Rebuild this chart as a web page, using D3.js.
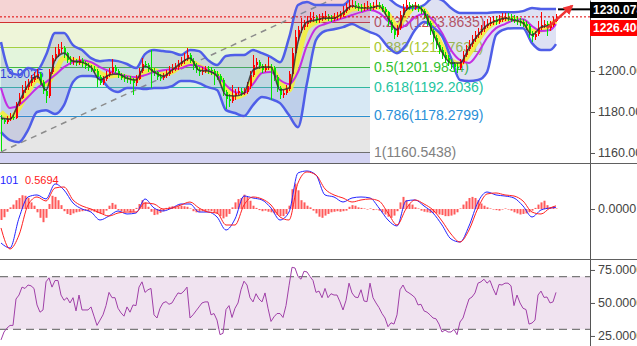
<!DOCTYPE html>
<html>
<head>
<meta charset="utf-8">
<script src="https://cdn.jsdelivr.net/npm/d3@7"></script>
<style>
body { margin: 0; background: #fff; overflow: hidden; }
svg { display: block; font-family: "Liberation Sans", Arial, sans-serif; }
</style>
</head>
<body>
<svg width="637" height="346"></svg>
<script>
// candles, one per bar
var open = [
1177.0,1176.2,1175.1,1176.8,1177.5,1177.0,1183.8,1187.0,1190.6,1192.4,
1193.9,1195.8,1197.1,1198.3,1194.6,1190.0,1187.8,1199.5,1206.2,1208.4,
1210.6,1211.0,1208.6,1205.3,1204.2,1205.0,1203.9,1205.6,1203.8,1202.6,
1201.5,1200.9,1200.2,1197.2,1194.3,1196.0,1198.1,1199.6,1201.8,1200.2,
1197.9,1196.8,1196.4,1195.9,1195.4,1194.2,1196.3,1199.8,1203.6,1203.1,
1201.0,1200.1,1199.3,1197.0,1196.8,1197.6,1198.5,1200.3,1201.2,1201.9,
1203.5,1204.8,1206.0,1207.8,1205.1,1202.4,1200.6,1199.5,1200.1,1200.8,
1200.3,1200.0,1198.6,1197.4,1195.6,1189.7,1186.5,1185.6,1187.7,1189.4,
1190.3,1189.5,1189.9,1192.6,1198.0,1202.9,1204.3,1202.5,1200.6,1201.4,
1202.0,1201.6,1197.0,1191.5,1188.2,1189.3,1191.2,1198.5,1209.0,1216.8,
1219.8,1221.4,1222.9,1224.4,1225.8,1226.3,1224.8,1225.9,1226.6,1227.0,
1225.7,1225.6,1226.2,1226.8,1227.3,1229.5,1231.0,1232.0,1232.4,1231.8,
1231.0,1230.6,1231.3,1231.9,1230.8,1231.7,1232.3,1231.6,1230.4,1228.7,
1223.9,1220.1,1217.6,1221.0,1227.3,1230.6,1232.0,1231.2,1230.8,1231.6,
1230.4,1229.2,1227.0,1223.5,1219.5,1216.0,1212.6,1210.4,1208.0,1206.3,
1204.6,1203.2,1202.1,1201.6,1204.3,1207.8,1210.8,1213.0,1215.4,1217.5,
1218.9,1220.4,1222.0,1223.1,1223.9,1224.8,1224.0,1224.9,1225.8,1226.3,
1226.0,1225.6,1224.9,1224.2,1223.8,1223.0,1221.9,1218.4,1216.6,1217.9,
1221.0,1222.6,1223.0,1220.9,1222.5,1224.4];
var high = [
1178.5,1177.3,1178.0,1179.4,1178.6,1185.0,1189.2,1193.0,1195.3,1196.0,
1198.2,1199.6,1200.9,1199.4,1195.5,1191.4,1200.8,1208.0,1211.6,1213.1,
1214.2,1212.3,1209.4,1207.5,1206.8,1206.0,1207.4,1206.5,1204.9,1203.7,
1203.0,1202.2,1201.0,1198.0,1197.5,1199.8,1201.7,1205.9,1203.0,1201.0,
1199.2,1198.3,1197.7,1197.4,1196.6,1197.9,1201.6,1206.2,1205.1,1203.9,
1210.0,1201.5,1200.1,1198.6,1199.0,1200.3,1202.2,1203.5,1204.0,1205.3,
1206.9,1208.6,1211.3,1209.0,1206.2,1203.9,1201.9,1201.8,1202.5,1202.2,
1201.9,1201.0,1200.0,1198.6,1196.4,1190.8,1188.9,1193.0,1191.3,1192.0,
1191.6,1191.5,1194.4,1200.0,1207.9,1206.4,1205.4,1203.4,1203.5,1206.8,
1203.3,1202.4,1198.1,1192.6,1190.9,1193.0,1200.2,1211.0,1219.9,1222.0,
1225.7,1224.9,1227.0,1228.6,1229.0,1227.4,1227.8,1228.5,1229.1,1228.0,
1227.5,1228.3,1228.9,1229.4,1231.6,1233.4,1234.6,1234.5,1233.9,1233.2,
1232.6,1233.4,1234.0,1233.0,1233.6,1234.5,1233.8,1232.6,1231.4,1229.5,
1224.8,1221.2,1222.6,1229.2,1232.8,1234.4,1233.8,1232.9,1233.6,1232.8,
1231.6,1230.1,1228.0,1224.5,1220.6,1217.4,1213.9,1211.8,1209.3,1207.8,
1206.0,1204.6,1203.8,1206.0,1209.6,1212.9,1215.3,1217.6,1219.7,1221.0,
1222.6,1224.3,1225.5,1226.2,1227.0,1226.6,1227.1,1228.1,1228.4,1228.2,
1227.7,1227.2,1226.6,1225.9,1225.4,1224.6,1222.8,1219.6,1219.5,1224.6,
1229.0,1225.1,1224.2,1224.4,1226.3,1227.6];
var low = [
1160.8,1173.9,1174.2,1175.8,1175.9,1176.5,1182.9,1186.1,1189.4,1190.8,
1192.6,1194.4,1196.0,1193.2,1188.6,1184.6,1186.9,1198.4,1204.8,1206.9,
1208.8,1206.5,1203.8,1202.9,1203.1,1202.2,1202.8,1202.1,1201.0,1199.9,
1199.3,1198.8,1192.0,1193.0,1193.1,1195.2,1197.0,1198.7,1199.1,1196.6,
1195.4,1194.8,1194.3,1193.6,1188.4,1192.8,1195.5,1198.9,1201.7,1199.6,
1191.9,1197.6,1195.6,1195.2,1195.6,1196.4,1197.7,1199.1,1200.0,1200.7,
1202.4,1203.6,1204.9,1203.8,1200.6,1198.8,1197.8,1198.2,1199.0,1198.6,
1198.0,1193.4,1195.8,1193.8,1188.0,1181.4,1182.5,1184.4,1186.0,1188.2,
1187.9,1188.1,1188.8,1191.4,1197.2,1201.5,1201.1,1199.0,1199.7,1200.3,
1185.9,1195.3,1189.8,1186.3,1187.0,1188.1,1190.4,1197.6,1208.1,1214.5,
1218.3,1220.0,1221.5,1223.4,1224.1,1223.3,1223.6,1224.3,1225.0,1224.2,
1223.9,1224.4,1225.0,1225.5,1226.1,1228.1,1229.9,1230.6,1230.2,1229.5,
1228.8,1229.2,1229.9,1229.4,1229.6,1230.3,1230.0,1228.7,1227.2,1222.1,
1218.3,1215.5,1216.4,1220.2,1226.4,1229.5,1229.8,1229.1,1229.6,1228.9,
1227.6,1225.4,1221.8,1217.6,1214.1,1210.5,1208.3,1205.9,1204.0,1202.4,
1200.9,1199.6,1199.0,1200.4,1203.4,1206.7,1209.8,1211.9,1214.2,1216.3,
1217.7,1219.1,1220.8,1221.9,1222.6,1222.4,1222.8,1223.7,1224.5,1224.6,
1224.0,1223.3,1222.6,1222.0,1221.4,1220.0,1216.2,1214.2,1215.0,1216.9,
1219.8,1221.0,1217.1,1219.6,1221.3,1223.8];
var close = [
1176.2,1175.1,1176.8,1177.5,1177.0,1183.8,1187.0,1190.6,1192.4,1193.9,
1195.8,1197.1,1198.3,1194.6,1190.0,1187.8,1199.5,1206.2,1208.4,1210.6,
1211.0,1208.6,1205.3,1204.2,1205.0,1203.9,1205.6,1203.8,1202.6,1201.5,
1200.9,1200.2,1197.2,1194.3,1196.0,1198.1,1199.6,1201.8,1200.2,1197.9,
1196.8,1196.4,1195.9,1195.4,1194.2,1196.3,1199.8,1203.6,1203.1,1201.0,
1200.1,1199.3,1197.0,1196.8,1197.6,1198.5,1200.3,1201.2,1201.9,1203.5,
1204.8,1206.0,1207.8,1205.1,1202.4,1200.6,1199.5,1200.1,1200.8,1200.3,
1200.0,1198.6,1197.4,1195.6,1189.7,1186.5,1185.6,1187.7,1189.4,1190.3,
1189.5,1189.9,1192.6,1198.0,1202.9,1204.3,1202.5,1200.6,1201.4,1202.0,
1201.6,1197.0,1191.5,1188.2,1189.3,1191.2,1198.5,1209.0,1216.8,1219.8,
1221.4,1222.9,1224.4,1225.8,1226.3,1224.8,1225.9,1226.6,1227.0,1225.7,
1225.6,1226.2,1226.8,1227.3,1229.5,1231.0,1232.0,1232.4,1231.8,1231.0,
1230.6,1231.3,1231.9,1230.8,1231.7,1232.3,1231.6,1230.4,1228.7,1223.9,
1220.1,1217.6,1221.0,1227.3,1230.6,1232.0,1231.2,1230.8,1231.6,1230.4,
1229.2,1227.0,1223.5,1219.5,1216.0,1212.6,1210.4,1208.0,1206.3,1204.6,
1203.2,1202.1,1201.6,1204.3,1207.8,1210.8,1213.0,1215.4,1217.5,1218.9,
1220.4,1222.0,1223.1,1223.9,1224.8,1224.0,1224.9,1225.8,1226.3,1226.0,
1225.6,1224.9,1224.2,1223.8,1223.0,1221.9,1218.4,1216.6,1217.9,1221.0,
1222.6,1223.0,1220.9,1222.5,1224.4,1226.4];

// overlays, sampled every 3rd bar
var bbUpper = [1214.1,1199.5,1198.0,1201.4,1200.4,1207.8,1218.5,1218.5,1212.6,1210.2,
1206.3,1204.8,1205.3,1204.8,1203.4,1201.4,1208.2,1210.2,1209.7,1209.2,
1207.8,1210.2,1209.7,1205.3,1202.9,1207.3,1207.8,1207.8,1210.2,1208.7,
1206.8,1204.3,1216.1,1232.2,1233.6,1232.2,1232.2,1232.2,1232.2,1236.1,
1238.5,1238.5,1237.5,1235.6,1232.2,1230.7,1230.7,1232.2,1235.6,1234.6,
1230.7,1228.3,1228.3,1228.3,1228.3,1228.7,1228.7,1228.7,1229.2,1230.7,
1230.2,1230.2,1230.2];
var bbLower = [1170.2,1166.3,1165.3,1171.2,1180.0,1180.9,1179.0,1183.4,1194.6,1197.5,
1197.5,1196.5,1191.7,1189.7,1191.7,1191.7,1191.2,1191.7,1191.7,1192.6,
1195.1,1195.1,1194.1,1192.1,1190.7,1180.9,1179.5,1178.0,1183.4,1187.3,
1186.3,1184.3,1178.5,1172.6,1194.1,1215.1,1219.5,1220.4,1221.4,1222.9,
1220.9,1219.0,1217.0,1211.7,1208.7,1212.6,1220.0,1223.9,1221.4,1217.0,
1206.3,1195.6,1195.1,1195.6,1199.5,1217.5,1220.4,1220.9,1220.9,1213.6,
1210.2,1210.2,1213.1];
var maSlow = [1191.7,1181.9,1183.4,1187.3,1191.7,1194.6,1198.0,1201.9,1204.3,1205.3,
1204.3,1201.9,1200.0,1198.5,1197.5,1197.0,1198.0,1199.5,1200.4,1200.9,
1201.4,1202.9,1202.4,1200.4,1198.0,1193.1,1189.7,1189.2,1193.6,1199.0,
1199.5,1195.6,1193.6,1199.5,1212.6,1220.9,1222.9,1224.4,1225.8,1227.3,
1228.7,1229.7,1228.3,1224.4,1220.4,1222.4,1226.3,1227.8,1224.8,1218.5,
1210.2,1205.3,1203.9,1208.7,1216.1,1220.9,1222.9,1224.8,1225.3,1221.9,
1219.5,1220.0,1222.9];
var maMid = [1180.0,1177.0,1181.9,1189.7,1195.6,1193.6,1199.5,1206.3,1205.3,1204.3,
1202.9,1199.0,1197.5,1198.0,1197.0,1196.0,1199.5,1200.4,1198.5,1199.5,
1202.4,1204.8,1202.4,1200.0,1198.5,1191.7,1187.3,1188.7,1195.6,1201.4,
1201.4,1194.6,1190.7,1206.3,1220.9,1223.9,1225.3,1225.8,1227.3,1230.2,
1230.7,1230.7,1231.2,1227.8,1221.9,1226.8,1231.2,1229.7,1221.4,1212.2,
1205.3,1203.4,1208.2,1215.1,1220.9,1223.9,1225.3,1225.3,1223.9,1219.5,
1220.0,1222.4,1224.4];
var maFast = [1177.0,1176.5,1184.8,1193.1,1197.5,1190.7,1205.3,1208.7,1204.8,1204.3,
1201.9,1195.6,1198.0,1198.5,1196.5,1195.6,1202.4,1199.5,1197.5,1200.4,
1203.9,1206.3,1200.4,1200.0,1197.5,1188.2,1187.8,1189.2,1200.4,1201.9,
1201.9,1190.7,1191.7,1214.1,1223.9,1224.8,1225.8,1225.8,1228.3,1231.7,
1230.7,1230.7,1231.7,1225.8,1220.0,1229.7,1231.7,1228.7,1218.5,1209.2,
1203.9,1203.9,1211.2,1217.5,1222.4,1224.4,1225.8,1224.8,1223.4,1217.5,
1221.4,1222.4,1225.3];

// fibonacci retracement
var fibRatios = ["0", "0.236", "0.382", "0.5", "0.618", "0.786", "1"];
var fibLevels = [1243.4229, 1223.8635, 1211.7631, 1201.9834, 1192.2036, 1178.2799, 1160.5438];

// MACD, sampled every 3rd bar
var macdMain = [-6.18,-7.09,-1.64,2.18,2.55,1.82,4.55,3.45,1.09,0,
-0.55,-2.0,-1.27,-0.36,-0.91,-0.73,1.82,0.18,-0.36,0.18,
0.91,0.91,-0.55,-0.55,-1.45,-3.82,-1.82,2.36,2.0,1.64,
0.18,-2.0,-0.55,6.55,6.91,6.18,2.55,2.18,1.27,2.0,
2.18,2.0,0.18,-2.0,-3.09,1.45,1.64,0.55,-0.73,-2.91,
-5.45,-6.0,-3.09,1.27,3.09,2.55,2.36,2.0,0.55,-1.45,
-0.18,0.18,0.31];
var macdSignal = [-3.45,-7.27,-4.73,0.73,2.18,1.45,3.82,4.0,1.64,0.55,
0,-0.73,-1.27,-0.73,-0.55,-0.55,1.09,0.91,0,0.18,
0.73,1.27,0.18,-0.55,-0.73,-2.91,-2.91,0.73,2.18,1.82,
0.73,-1.45,-2.0,4.73,6.73,6.18,3.64,2.55,2.0,1.27,
1.64,1.82,1.45,-0.73,-2.91,0,1.64,0.91,-0.18,-2.18,
-4.55,-6.0,-3.82,0.18,2.73,2.91,2.55,2.36,1.45,-0.55,
-0.91,0.18,0.57];
// MACD histogram, one per bar
var macdHist = [-2.0,-1.5,-0.5,0.3,0.8,1.6,2.0,2.5,2.4,2.0,
1.2,0.6,-0.6,-1.6,-2.4,-1.6,0.9,2.4,2.2,1.6,
0.7,-0.4,-0.9,-1.1,-0.8,-0.6,-0.5,-0.4,-0.3,-0.4,
-0.3,-0.5,-0.7,-0.8,-0.9,-0.3,0.6,1.1,0.8,-0.2,
-0.4,-0.5,-0.4,-0.6,-0.5,0.2,0.9,1.6,1.2,0.4,
-0.5,-1.1,-1.0,-0.7,-0.4,0.2,0.4,0.5,0.4,0.5,
0.6,0.5,0.4,0.1,-0.4,-0.6,-0.5,-0.4,-0.5,-0.3,
-0.4,-0.6,-0.9,-1.3,-1.7,-1.4,-0.9,0.3,1.2,1.8,
2.0,2.6,2.2,1.5,0.6,0.2,-0.2,-0.4,-0.3,-0.5,
-0.6,-0.8,-1.1,-1.3,-1.3,-0.9,0.6,3.6,4.6,3.4,
1.6,1.2,0.6,0.3,-0.3,-0.8,-1.4,-1.6,-1.2,-0.9,
-0.6,-0.5,-0.4,-0.5,-0.4,-0.3,0.4,0.7,0.6,0.3,
0.2,0.1,-0.1,0.1,-0.2,-0.1,-0.3,-0.6,-1.0,-1.4,
-1.6,-1.2,-0.4,1.2,2.2,1.6,0.9,0.8,0.3,0.1,
-0.3,-0.5,-0.6,-0.7,-0.7,-0.8,-1.0,-1.1,-1.3,-1.3,
-1.2,-1.0,-0.6,0.1,0.8,1.4,2.0,2.2,2.0,1.6,
1.0,0.6,0.3,0.1,-0.1,-0.2,-0.3,-0.1,0.1,-0.1,
-0.3,-0.6,-0.8,-1.0,-0.9,-0.8,-0.6,-0.3,0.2,0.8,
1.2,1.5,0.7,0.3,0.2,0.1];

// RSI, one per bar
var rsi = [22,28,31,33,33,53,56,62,61,63.6,
63,61,48.5,43,44.7,66,69,62,67,67,
56,52,54,50,54,44,56,44.7,44.7,44.7,
47,40,33,37,41,48,58,54,54,46,
42.5,40,47,43,48.5,48,62,66,58,60,
61,41,38.6,46,50,51,49,50,54,57.6,
57,59,62,38.6,41,44,47,50,50.8,50.8,
41,42,37,26,27,45,48,39,46,50,
60,66.5,63.6,54,50.8,57,53,50.8,57.6,46,
36,39.5,42,42,39,48,63,77,76.5,70,
68,74,73.5,70,67,58,59,54,61,54,
57,56,56,50.8,44.7,52,65,57.6,54.5,54,
60,51.5,51,65,54,50,46.5,42,38.6,32,
35,34,41,60,63.6,59,57.6,56,54,48.5,
49,44,43,41,38.6,38,34,28,29.5,28,
28,30,26,35.6,38.6,46,53,54.5,57.6,65,
66,68,65,67,61,56,64,63.6,65,65,
63,48,56,50,46,45,34,34.8,37,56,
59,54.2,54.5,50,50.8,58];

var priceTicks = [1160, 1180, 1200];
var macdTicks = [0];
var rsiTicks = [25, 50, 75];
var rsiLevels = [70, 30];
var lastPrice = 1226.40, markPrice = 1230.078;

var svg = d3.select("svg");
var N = close.length;
var axisX = 590;

var x = d3.scaleLinear().domain([0, N - 1]).range([1, 556]);
var y = d3.scaleLinear().domain([1155.12, 1234.63]).range([163, 0]);
var yM = d3.scaleLinear().domain([-9.09, 8.36]).range([259, 163]);
var yR = d3.scaleLinear().domain([17.4, 83.3]).range([346, 259]);
var sx = function(k) { return x(Math.min(k * 3, N - 1)); };

var defs = svg.append("defs");
defs.append("clipPath").attr("id", "cMain").append("rect").attr("width", axisX).attr("height", 163);
defs.append("clipPath").attr("id", "cMacd").append("rect").attr("y", 163).attr("width", axisX).attr("height", 96);
defs.append("clipPath").attr("id", "cRsi").append("rect").attr("y", 259).attr("width", axisX).attr("height", 87);
defs.append("marker").attr("id", "arr").attr("viewBox", "0 0 10 10").attr("refX", 8).attr("refY", 5)
    .attr("markerWidth", 4).attr("markerHeight", 4).attr("orient", "auto")
  .append("path").attr("d", "M0,0L10,5L0,10z").attr("fill", "#f03434");

var main = svg.append("g").attr("clip-path", "url(#cMain)");

// fib zones
var fibEnd = x(123);
var zoneColors = ["#f5d4d4", "#eef5d9", "#e3f5dc", "#d9f2e9", "#d7e8f4", "#e6e6e6", "#d4d4f3"];
var lineColors = ["#d03030", "#d03030", "#a4d040", "#40b840", "#30b8a0", "#2a90d0", "#707070"];
var labelColors = ["#c84c4c", "#c84c4c", "#a8c830", "#30c030", "#22c4a0", "#2a90d8", "#808080"];
var zoneEdges = fibLevels.concat([y.domain()[0]]);
main.selectAll(".zone").data(zoneColors).enter().append("rect")
    .attr("x", 0).attr("width", fibEnd)
    .attr("y", function(d, i) { return y(zoneEdges[i]); })
    .attr("height", function(d, i) { return y(zoneEdges[i + 1]) - y(zoneEdges[i]); })
    .attr("fill", function(d) { return d; });

main.selectAll(".fib").data(fibLevels).enter().append("line")
    .attr("x1", 0).attr("x2", fibEnd)
    .attr("y1", function(d) { return Math.round(y(d)) + 0.5; })
    .attr("y2", function(d) { return Math.round(y(d)) + 0.5; })
    .attr("stroke", function(d, i) { return lineColors[i]; })
    .attr("stroke-width", 1.2);

// the 0 level sits above the visible area, so only 0.236 .. 1 get a label
main.selectAll(".fibl").data(fibLevels.slice(1)).enter().append("text")
    .attr("x", fibEnd + 4)
    .attr("y", function(d) { return y(d) + 1; })
    .attr("dominant-baseline", "middle")
    .attr("font-size", 14)
    .attr("fill", function(d, i) { return labelColors[i + 1]; })
    .text(function(d, i) { return fibRatios[i + 1] + "(" + d.toFixed(4) + ")"; });

main.append("line")
    .attr("x1", x(0)).attr("y1", y(fibLevels[6]))
    .attr("x2", fibEnd).attr("y2", y(fibLevels[0]))
    .attr("stroke", "#8c8c8c").attr("stroke-width", 1.5).attr("stroke-dasharray", "6,5");

main.append("text").attr("x", 0).attr("y", 75).attr("dominant-baseline", "middle")
    .attr("font-size", 12).attr("fill", "#2030e0").text("13.9025");

// bollinger bands
var band = d3.area().x(function(d, k) { return sx(k); })
    .y0(function(d, k) { return y(bbLower[k]); })
    .y1(function(d) { return y(d); })
    .curve(d3.curveMonotoneX);
main.append("path").datum(bbUpper).attr("d", band).attr("fill", "#6878c8").attr("fill-opacity", 0.22);

var line = function(s) {
  return d3.line().x(function(d, k) { return sx(k); }).y(function(d) { return s(d); }).curve(d3.curveMonotoneX);
};
main.append("path").datum(maMid).attr("d", line(y)).attr("fill", "none")
    .attr("stroke", "#f4f03c").attr("stroke-width", 5).attr("stroke-opacity", 0.9);
main.append("path").datum(maSlow).attr("d", line(y)).attr("fill", "none")
    .attr("stroke", "#c42ee2").attr("stroke-width", 2);
[bbUpper, bbLower].forEach(function(s) {
  main.append("path").datum(s).attr("d", line(y)).attr("fill", "none")
      .attr("stroke", "#4f5ee8").attr("stroke-width", 2.5);
});

// candles
var candle = main.selectAll(".candle").data(close).enter().append("g")
    .attr("shape-rendering", "crispEdges");
var col = function(d, i) { return d >= open[i] ? "#ff0000" : "#00e400"; };
candle.append("line")
    .attr("x1", function(d, i) { return x(i) + 0.5; })
    .attr("x2", function(d, i) { return x(i) + 0.5; })
    .attr("y1", function(d, i) { return y(high[i]); })
    .attr("y2", function(d, i) { return y(low[i]); })
    .attr("stroke", col);
candle.append("rect")
    .attr("x", function(d, i) { return x(i) - 0.5; })
    .attr("width", 2)
    .attr("y", function(d, i) { return y(Math.max(d, open[i])); })
    .attr("height", function(d, i) { return Math.max(1, Math.abs(y(d) - y(open[i]))); })
    .attr("fill", col);

main.append("path").datum(maFast).attr("d", line(y)).attr("fill", "none")
    .attr("stroke", "#303030").attr("stroke-width", 1.6).attr("stroke-opacity", 0.85);

main.append("line").attr("x1", 0).attr("x2", axisX)
    .attr("y1", y(lastPrice)).attr("y2", y(lastPrice))
    .attr("stroke", "#e00000").attr("stroke-dasharray", "2,2");
main.append("line").attr("x1", x(N - 1) + 2).attr("x2", axisX)
    .attr("y1", y(markPrice)).attr("y2", y(markPrice))
    .attr("stroke", "#000").attr("stroke-width", 2);
main.append("line")
    .attr("x1", x(182)).attr("y1", y(1220.9))
    .attr("x2", x(190.3)).attr("y2", y(1231.7))
    .attr("stroke", "#f03434").attr("stroke-width", 2.5).attr("marker-end", "url(#arr)");

// MACD panel
var macd = svg.append("g").attr("clip-path", "url(#cMacd)");
macd.selectAll(".h").data(macdHist).enter().append("rect")
    .attr("x", function(d, i) { return x(i) - 0.5; })
    .attr("width", 2)
    .attr("y", function(d) { return Math.min(yM(d), yM(0)); })
    .attr("height", function(d) { return Math.abs(yM(d) - yM(0)); })
    .attr("fill", "#ff5a5a");
macd.append("path").datum(macdMain).attr("d", line(yM)).attr("fill", "none")
    .attr("stroke", "#2424ff").attr("stroke-width", 1);
macd.append("path").datum(macdSignal).attr("d", line(yM)).attr("fill", "none")
    .attr("stroke", "#ff2020").attr("stroke-width", 1);
svg.append("text").attr("x", 0).attr("y", 184)
    .attr("font-size", 11).attr("fill", "#2424ff").text("101");
svg.append("text").attr("x", 25).attr("y", 184)
    .attr("font-size", 11).attr("fill", "#ff2020").text("0.5694");

// RSI panel
var rs = svg.append("g").attr("clip-path", "url(#cRsi)");
rs.append("rect").attr("x", 0).attr("width", axisX)
    .attr("y", yR(rsiLevels[0])).attr("height", yR(rsiLevels[1]) - yR(rsiLevels[0]))
    .attr("fill", "#f0e3f0");
rs.selectAll(".lv").data(rsiLevels).enter().append("line")
    .attr("x1", 0).attr("x2", axisX)
    .attr("y1", function(d) { return yR(d); }).attr("y2", function(d) { return yR(d); })
    .attr("stroke", "#7a7a7a").attr("stroke-width", 1.2).attr("stroke-dasharray", "8,5");
rs.append("path").datum(rsi)
    .attr("d", d3.line().x(function(d, i) { return x(i); }).y(function(d) { return yR(d); }))
    .attr("fill", "none").attr("stroke", "#a040a8").attr("stroke-width", 1);

// axes
function rightAxis(scale, ticks, fmt) {
  var g = svg.append("g").attr("transform", "translate(" + axisX + ",0)")
      .call(d3.axisRight(scale).tickValues(ticks).tickFormat(d3.format(fmt)).tickSize(5).tickSizeOuter(0).tickPadding(3));
  g.select(".domain").attr("stroke", "#555");
  g.selectAll(".tick line").attr("stroke", "#555");
  g.selectAll("text").attr("font-size", 12.5).attr("fill", "#444")
      .attr("font-family", "'Liberation Sans', Arial, sans-serif");
}
rightAxis(y, priceTicks, ".2f");
rightAxis(yM, macdTicks, ".4f");
rightAxis(yR, rsiTicks, ".4f");

svg.selectAll(".sep").data([163, 259]).enter().append("line")
    .attr("x1", 0).attr("x2", 637)
    .attr("y1", function(d) { return d + 0.5; }).attr("y2", function(d) { return d + 0.5; })
    .attr("stroke", "#606060").attr("stroke-width", 1.2);

// price labels on the axis
svg.append("rect").attr("x", axisX).attr("y", 2).attr("width", 47).attr("height", 16).attr("fill", "#000");
svg.append("text").attr("x", axisX + 3).attr("y", 10.5).attr("dominant-baseline", "middle")
    .attr("font-size", 12).attr("font-weight", "bold").attr("fill", "#fff").text(markPrice.toFixed(3));
svg.append("rect").attr("x", axisX).attr("y", 20).attr("width", 47).attr("height", 16).attr("fill", "#ff0000");
svg.append("text").attr("x", axisX + 3).attr("y", 28.5).attr("dominant-baseline", "middle")
    .attr("font-size", 12).attr("font-weight", "bold").attr("fill", "#fff").text(lastPrice.toFixed(3));
</script>
</body>
</html>
